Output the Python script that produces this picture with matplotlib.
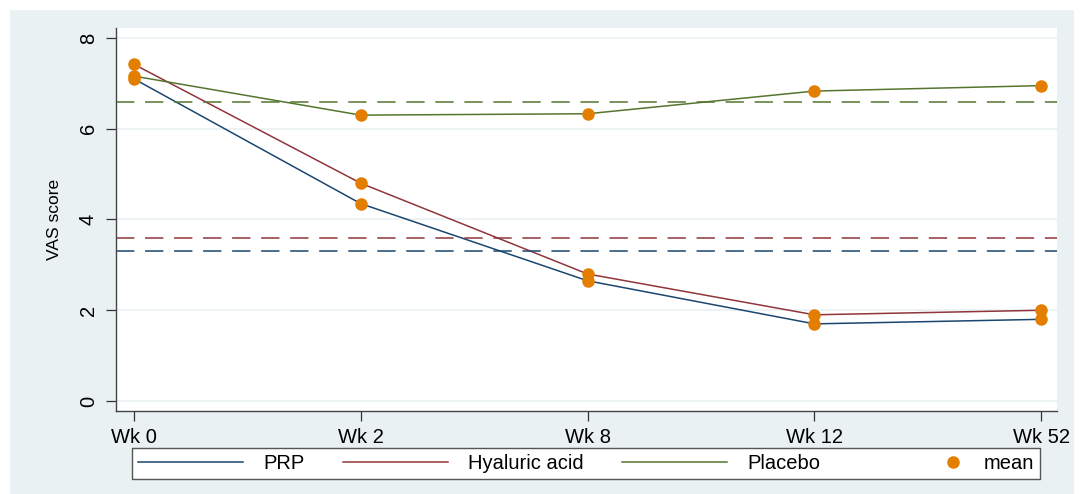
import matplotlib.pyplot as plt
from matplotlib.patches import Rectangle
from matplotlib.legend_handler import HandlerLine2D

plt.rcParams['font.family'] = ['Liberation Sans', 'DejaVu Sans']

weeks = ["Wk 0", "Wk 2", "Wk 8", "Wk 12", "Wk 52"]
prp = [7.1, 4.35, 2.65, 1.7, 1.8]
hyaluronic = [7.42, 4.8, 2.8, 1.9, 2.0]
placebo = [7.16, 6.3, 6.33, 6.83, 6.95]
overall_means = {"PRP": 3.3, "Hyaluric acid": 3.6, "Placebo": 6.6}
yticks = [0, 2, 4, 6, 8]

navy = "#1a476f"
maroon = "#90353b"
green = "#55752f"
orange = "#e37e00"
bg = "#eaf1f3"


class RightMarkerHandler(HandlerLine2D):
    # single legend marker sits next to its label instead of mid-handle
    def get_xdata(self, legend, xdescent, ydescent, width, height, fontsize):
        xm = -xdescent + width - 0.5 * fontsize
        return [xm - 1, xm + 1], [xm]


fig = plt.figure(figsize=(10.82, 4.94), dpi=100)
# light graph region behind the plot
fig.patches.append(Rectangle((10 / 1082, 0), 1064 / 1082, 1 - 10 / 494,
                             transform=fig.transFigure, facecolor=bg,
                             edgecolor="none", zorder=-10))

ax = fig.add_axes([116 / 1082, 1 - 411 / 494, 941 / 1082, 383 / 494])
ax.set_facecolor("white")

x = list(range(len(weeks)))
l1, = ax.plot(x, prp, color=navy, lw=1.1, label="PRP")
l2, = ax.plot(x, hyaluronic, color=maroon, lw=1.1, label="Hyaluric acid")
l3, = ax.plot(x, placebo, color=green, lw=1.1, label="Placebo")

ax.axhline(overall_means["Placebo"], color=green, lw=1.1, dashes=(12, 7))
ax.axhline(overall_means["Hyaluric acid"], color=maroon, lw=1.1, dashes=(12, 7))
ax.axhline(overall_means["PRP"], color=navy, lw=1.1, dashes=(12, 7))

for series in (prp, hyaluronic, placebo):
    pts, = ax.plot(x, series, "o", color=orange, ms=8, zorder=5, label="mean")

ax.set_xlim(-0.079, 4.07)
ax.set_ylim(-0.22, 8.22)
ax.set_xticks(x)
ax.set_xticklabels(weeks, fontsize=14.5)
ax.set_yticks(yticks)
ax.set_yticklabels([str(t) for t in yticks], fontsize=14.5, rotation=90, va="center")
ax.tick_params(axis="both", direction="out", length=7, width=0.9, color="#333333")
ax.tick_params(axis="x", pad=5)
ax.tick_params(axis="y", pad=6)
ax.grid(axis="y", color=bg, lw=1.2)
ax.set_axisbelow(True)
ax.set_ylabel("VAS score", fontsize=12.5, labelpad=12)

for side in ("top", "right"):
    ax.spines[side].set_visible(False)
for side in ("left", "bottom"):
    ax.spines[side].set_color("#444444")
    ax.spines[side].set_linewidth(1.0)

leg = fig.legend(handles=[l1, l2, l3, pts],
                 labels=["PRP", "Hyaluric acid", "Placebo", "mean"],
                 loc="lower left",
                 bbox_to_anchor=(132 / 1082, 1 - 479 / 494, 908 / 1082, 30 / 494),
                 mode="expand", ncol=4, fontsize=14.5, handlelength=5.2,
                 handletextpad=1.0, frameon=True, fancybox=False,
                 framealpha=1, facecolor="white", borderaxespad=0,
                 borderpad=0.3, columnspacing=1.5, numpoints=1,
                 handler_map={pts: RightMarkerHandler(numpoints=1)})
leg.get_frame().set_edgecolor("#555555")
leg.get_frame().set_linewidth(1.0)

fig.savefig("out.png", dpi=100, facecolor="white")
